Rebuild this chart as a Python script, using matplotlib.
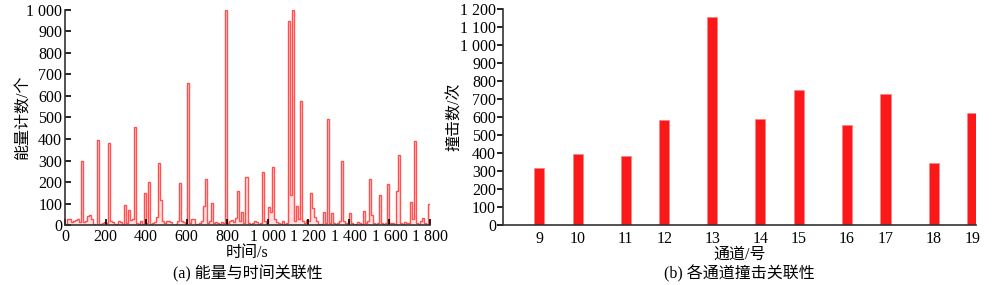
import numpy as np
import matplotlib
matplotlib.use("Agg")
import matplotlib.pyplot as plt

plt.rcParams['font.family'] = ['Liberation Serif', 'Noto Sans CJK SC', 'DejaVu Sans']

# ---- (a) energy counts per 10 s bin, 0..1800 s ----
bin_width = 10
energy_counts = [
    5, 30, 30, 15, 20, 25, 30, 15, 300, 15,
    20, 45, 50, 30, 5, 0, 395, 5, 10, 15,
    10, 380, 20, 15, 5, 5, 20, 15, 5, 95,
    10, 70, 25, 30, 456, 10, 5, 20, 5, 150,
    10, 202, 5, 10, 15, 40, 290, 115, 20, 10,
    20, 20, 15, 0, 5, 20, 195, 20, 15, 5,
    659, 10, 30, 30, 5, 5, 10, 20, 90, 213,
    10, 20, 105, 10, 15, 10, 5, 15, 10, 999,
    10, 20, 25, 15, 35, 160, 20, 60, 10, 225,
    10, 5, 10, 20, 15, 5, 10, 249, 20, 10,
    86, 60, 272, 30, 15, 10, 5, 20, 5, 10,
    947, 140, 999, 20, 90, 30, 578, 20, 10, 25,
    20, 148, 80, 40, 20, 5, 5, 60, 10, 494,
    10, 55, 10, 5, 10, 20, 298, 20, 10, 5,
    58, 10, 0, 5, 15, 10, 5, 64, 10, 20,
    215, 50, 10, 5, 10, 142, 10, 5, 10, 192,
    10, 10, 5, 157, 326, 10, 5, 15, 10, 10,
    107, 30, 390, 10, 5, 20, 35, 10, 5, 97,
]
time_ticks = [0, 200, 400, 600, 800, 1000, 1200, 1400, 1600, 1800]
time_tick_labels = ['0', '200', '400', '600', '800', '1 000', '1 200', '1 400', '1 600', '1 800']
energy_ticks = list(range(0, 1001, 100))
energy_tick_labels = ['0', '100', '200', '300', '400', '500', '600', '700', '800', '900', '1 000']

# ---- (b) hits per channel ----
channels = ['9', '10', '11', '12', '13', '14', '15', '16', '17', '18', '19']
channel_x = [0, 0.8, 1.8, 2.6, 3.6, 4.6, 5.4, 6.4, 7.2, 8.2, 9.0]
hits = [318, 396, 385, 585, 1157, 589, 752, 556, 726, 346, 622]
hit_ticks = list(range(0, 1201, 100))
hit_tick_labels = ['0', '100', '200', '300', '400', '500', '600', '700', '800', '900',
                   '1 000', '1 100', '1 200']

fig = plt.figure(figsize=(10, 2.85), dpi=100)
spine_col = '#333333'
fs = 11.5

# ---------- left ----------
ax1 = fig.add_axes([0.065, 0.2095, 0.365, 0.7565])
t_edges = np.arange(len(energy_counts) + 1) * bin_width
vals = np.array(energy_counts, dtype=float)
ax1.stairs(vals, t_edges, baseline=0, fill=True, color='#ff7070', alpha=0.22, lw=0)
ax1.stairs(vals, t_edges, baseline=None, color='#ff2a2a', lw=1.0, alpha=0.8)
ax1.set_xlim(0, 1800)
ax1.set_ylim(0, 1000)
ax1.set_xticks(time_ticks)
ax1.set_xticklabels(time_tick_labels)
ax1.set_yticks(energy_ticks)
ax1.set_yticklabels(energy_tick_labels)
ax1.tick_params(axis='both', direction='in', length=4, width=1.2, colors='black',
                labelsize=fs, pad=2)
ax1.tick_params(axis='x', pad=3)
for s in ['top', 'right']:
    ax1.spines[s].set_visible(False)
for s in ['left', 'bottom']:
    ax1.spines[s].set_color(spine_col)
    ax1.spines[s].set_linewidth(1.2)
ax1.set_ylabel('能量计数/个', fontsize=fs, labelpad=-4)
ax1.set_xlabel('时间/s', fontsize=fs, labelpad=0)
fig.text(0.2475, 0.04, '(a) 能量与时间关联性', ha='center', va='center', fontsize=fs)

# ---------- right ----------
ax2 = fig.add_axes([0.503, 0.2105, 0.473, 0.7580])
ax2.bar(channel_x, hits, width=0.21, color='#fb1818', edgecolor='#ff8080', lw=0.5)
ax2.set_xlim(-0.75, 9.08)
ax2.set_ylim(0, 1200)
ax2.set_xticks(channel_x)
ax2.set_xticklabels(channels)
ax2.set_yticks(hit_ticks)
ax2.set_yticklabels(hit_tick_labels)
ax2.tick_params(axis='y', direction='out', length=4, width=1.2, labelsize=fs, pad=1)
ax2.tick_params(axis='x', length=0, labelsize=fs, pad=4)
for s in ['top', 'right']:
    ax2.spines[s].set_visible(False)
for s in ['left', 'bottom']:
    ax2.spines[s].set_color(spine_col)
    ax2.spines[s].set_linewidth(1.2)
ax2.set_ylabel('撞击数/次', fontsize=fs, labelpad=-2)
ax2.set_xlabel('通道/号', fontsize=fs, labelpad=0)
fig.text(0.7395, 0.04, '(b) 各通道撞击关联性', ha='center', va='center', fontsize=fs)

fig.savefig('out.png', dpi=100)
